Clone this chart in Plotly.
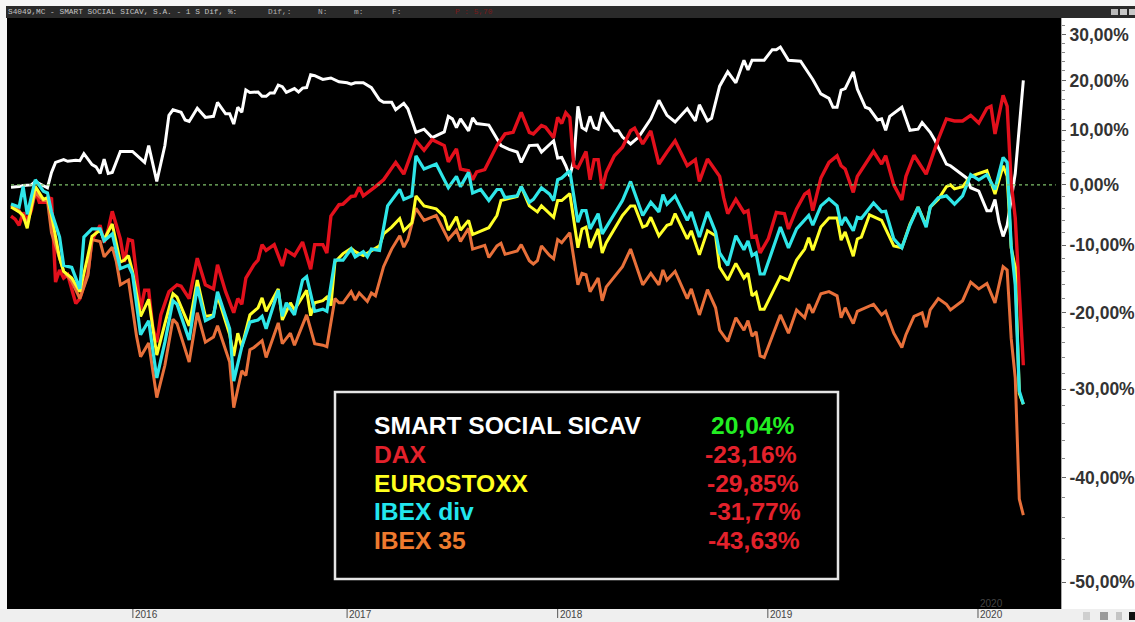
import math
import plotly.graph_objects as go

W, H = 1135, 622
PL, PR, PT, PB = 7, 1061, 18, 609

# weeks since start of the chart, percent change
white_wk = [0,2,3,5,6,8,9,10,11,13,14,16,17,18,20,21,22,23,24,25,27,30,33,34,35,36,38,39,40,42,43,44,46,48,50,51,53,54,55,56,57,58,59,61,62,63,64,65,66,67,68,70,71,72,73,74,75,77,79,81,83,84,85,87,89,91,92,94,95,97,98,100,102,104,107,108,109,110,111,113,114,115,118,121,123,125,126,128,130,131,134,135,136,137,138,139,140,141,142,143,144,145,146,147,149,150,151,153,155,157,158,160,162,164,167,169,170,172,173,175,177,179,181,182,183,186,188,189,190,192,195,198,200,202,203,204,205,206,208,209,211,212,214,215,216,217,218,220,222,224,225,227,228,231,232,234,236,237,239,241,242,243,244,245,246,248,250]
white_val = [-0.4,-0.3,-0.1,0,0.6,-0.1,-0.5,2.2,4.0,4.5,4.2,4.4,4.3,5.6,3.6,3.2,2.0,4.6,2.0,2.2,6.0,6.0,4.0,7.1,4.0,0.6,7.1,12.9,14,13.5,12,11.7,14.3,12.5,12.7,15.5,13.2,13.2,11.2,14.5,13.5,18,17.5,17.6,16.7,16.7,17.4,17.4,19,18.7,17.5,18.3,17.6,18.4,18.5,21.2,21,20.2,20.5,19.7,19.5,19.2,19.5,19.5,18.5,16,15.5,15.5,14,15.3,14.2,9.6,10.2,8.6,9.7,12.7,12.2,10.5,12.2,9.9,12.4,11.3,11,7.1,6.4,5.9,4,7.1,7.2,5.9,8,4.8,4.9,3.4,1.5,4.5,14.7,10.5,10,12.7,10.5,10.2,13.5,12,9.9,9.9,8.7,7.4,8.7,10.9,12.2,15.9,12.9,11.6,14.2,11.8,15,11.8,12.3,18.8,21.8,19.5,24.3,22.2,24.3,24.3,26.6,26.6,27.2,24.3,24.1,20.2,17.2,16.3,14.5,14.5,18,18.3,21.8,18.2,14.5,14.2,12,12.2,10,12.7,13.3,14.5,10,10.2,11.5,9.6,8.3,3.7,3.4,2.3,1.2,-0.5,-1.1,-4.4,-4.4,-2.5,-6.3,-8.6,-6.8,2,20]

red_wk = [0,1,2,3,4,5,6,7,8,9,10,11,12,13,14,16,17,19,20,22,23,24,25,27,28,29,30,32,33,34,35,36,37,39,41,42,44,46,48,50,51,53,55,56,57,58,60,61,62,63,65,67,68,70,72,74,75,77,78,79,81,82,84,85,86,87,90,92,93,95,97,100,102,104,107,108,110,111,113,114,115,117,120,122,124,126,128,129,131,132,134,135,136,137,138,139,140,142,143,144,145,146,147,149,151,153,154,156,158,160,162,164,167,169,170,172,175,176,177,179,181,182,183,184,185,187,189,191,192,194,196,197,198,200,202,204,205,206,208,209,213,215,216,218,220,221,223,226,229,231,233,235,237,239,241,242,243,245,246,247,248,250]
red_val = [-5.3,-5.8,-6.8,-4.7,-6,-4.4,-1,-3,-3,-3,-2.2,-15.6,-13.8,-15,-14.5,-18.7,-18,-14.2,-9.2,-6.8,-9.6,-7.5,-4.5,-9,-12.6,-9.1,-9.3,-19.6,-16.8,-16.8,-22,-24,-20.3,-17,-16,-16.2,-18,-12,-16,-16.6,-13,-17,-20,-18,-18.8,-15,-13,-12.3,-9.9,-10.8,-9.9,-13.2,-10.8,-11.6,-9.5,-13.7,-9.9,-9.9,-11.2,-5.3,-3.4,-3.3,-2,-1.9,-0.4,-1.9,-0.3,0.9,1.9,4,1.9,8,6.2,8.2,7.1,4.1,6.5,2.8,2.5,0.9,2.3,2.7,7.1,9.3,9.6,13.5,9.6,9.3,10.9,10.6,8.6,12.5,11.3,13.4,12.5,3.4,3,6,0.9,4.5,4.5,-0.7,2.2,5.2,6.8,9.9,10.4,7.4,9.9,3.7,5.9,8,3.4,4.5,0.6,4.6,1.5,-2.2,-4.9,-2.5,-4.7,-4.4,-8.7,-8.5,-11.2,-9,-4.7,-4.9,-7.4,-4.1,-1.6,-1.1,-4.4,1.2,4,5.2,3.4,2.8,-1.3,1.5,6,3.7,5.2,0,-2.6,1.5,5.3,1.9,8.3,12.2,11.8,11.8,12.9,11.4,14.3,14.7,9.3,16.9,14.7,0.3,-5.6,-27]

orange_wk = [0,2,4,6,8,9,10,12,13,15,17,19,20,22,23,25,26,27,29,31,32,34,36,38,40,41,44,46,48,50,51,54,55,57,58,59,60,62,63,66,67,69,70,73,75,77,78,80,81,82,84,85,86,88,89,90,92,94,96,97,98,100,102,105,108,110,111,113,114,117,118,120,121,122,125,126,128,129,130,131,133,134,135,136,138,140,141,142,143,145,146,147,151,153,156,158,160,161,162,164,167,168,170,172,174,175,177,179,181,182,183,184,185,186,190,192,194,196,197,198,200,202,204,205,206,208,209,213,215,216,218,220,221,223,225,226,227,229,231,232,235,237,239,241,243,245,246,247,248,249,250]
orange_val = [-3.5,-4.4,-6.5,-1.4,-2.7,-2.7,-8,-12,-14,-15.5,-18,-14.6,-9.1,-9.4,-11.8,-10.3,-12.5,-16,-15.3,-23.2,-25.9,-24.1,-31,-27,-20.9,-21.5,-26.6,-20,-24,-23.3,-21.8,-26.6,-32.2,-27.7,-28.3,-25,-24.7,-23.8,-26,-21.4,-24.2,-22.8,-24.4,-20.3,-24.2,-24.4,-24.6,-18,-18.6,-18.6,-17,-18.2,-17.2,-18.4,-17.2,-17.6,-13.3,-10.6,-8.5,-10.3,-9.1,-4,-6,-5.2,-9.1,-7.6,-9.4,-7.3,-10.6,-10,-11.9,-10.1,-9.7,-11.4,-10.9,-9.9,-12.4,-12.9,-12.4,-10.1,-11.6,-12.1,-9.1,-9.6,-8,-16,-14.3,-14.5,-17,-15,-18.3,-16.3,-13.3,-10.6,-16,-14.3,-16,-13.8,-15.3,-14,-18,-16.6,-20.3,-16.7,-19.3,-22.4,-23.9,-20.7,-22.4,-21.1,-23.2,-22.6,-25.8,-26,-20.3,-22.8,-19.6,-20.7,-18.8,-20,-17.3,-17,-17.6,-20.7,-19.3,-21.5,-19.8,-18.8,-20.3,-19.8,-22.8,-24.7,-23,-20.5,-20,-22,-19.6,-18,-18.8,-19.6,-18.3,-15.6,-16.6,-15.8,-18.6,-13.3,-13.8,-23.5,-28.6,-42.2,-43.8]

yellow_wk = [0,2,3,4,6,8,9,10,12,13,15,17,19,20,22,23,25,27,28,29,30,32,34,36,38,40,41,44,46,48,50,51,54,55,56,57,59,61,62,63,66,67,69,70,73,74,75,77,78,79,80,82,84,85,87,89,91,92,94,96,97,99,100,102,105,107,108,110,111,113,114,118,120,121,125,126,128,130,131,134,135,136,138,140,141,142,143,145,146,147,151,153,154,156,157,158,160,162,163,164,167,168,170,172,174,175,177,179,181,182,183,184,185,186,190,192,194,196,197,198,200,202,204,205,206,208,209,210,212,215,218,220,222,224,226,227,229,231,232,233,235,237,241,243,245,246,247,248,249,250]
yellow_val = [-3.8,-4.6,-5.2,-7.3,-0.3,-2.5,-2.2,-5.2,-12,-14,-15,-17,-11.6,-8.6,-7.6,-9.1,-6.6,-12.6,-12.3,-11.6,-14,-20.5,-18.1,-25.7,-21.5,-17.3,-17.8,-21.8,-15.3,-20.5,-20.3,-17.6,-23,-25.8,-22.8,-24.6,-20.3,-19.3,-17.9,-19.8,-16.6,-21,-18.6,-19.6,-16.8,-20.4,-18.6,-18.3,-17.8,-19,-12.6,-11.3,-10.5,-11,-11.6,-10.8,-10.1,-8.2,-7.1,-5.7,-7.7,-6.4,-1.9,-3.6,-4.1,-5.4,-7.6,-5.4,-7.6,-6,-8.3,-7.2,-5.2,-2.7,-2,-0.3,-3.6,-4.6,-3.6,-5.5,-2.7,-2.7,-1.5,-10.4,-7.4,-7.1,-10.4,-7.4,-11.2,-9.6,-5.2,-3.6,-3.6,-7.1,-6.8,-5.5,-8.5,-6.8,-6.6,-4.9,-9,-7.7,-11.5,-7.7,-8.5,-13.4,-15.3,-12.8,-15,-14.3,-17.6,-17.1,-19.5,-19.5,-14.8,-15.3,-12.3,-10.6,-8.8,-10.8,-7.1,-5.6,-5.6,-9.2,-7.9,-11.7,-9,-8.7,-5.1,-6,-10.1,-10.4,-6.6,-3.8,-6.8,-3.8,-2.5,-0.3,0,-0.7,-0.3,1.5,2.5,-1.6,3.4,1.5,-10.4,-13.4,-30.5,-31.8]

cyan_wk = [0,2,3,4,6,8,9,10,12,13,15,17,18,20,22,23,25,27,29,30,32,34,36,38,40,41,44,46,48,50,51,54,55,57,59,61,62,63,66,67,68,70,72,73,75,77,78,80,82,84,85,87,88,89,91,93,96,97,99,100,102,105,108,110,111,113,114,116,118,120,121,122,125,126,128,129,131,133,134,135,136,138,140,141,142,143,145,146,151,153,156,158,160,161,162,164,167,168,170,172,174,175,177,179,181,182,183,184,185,186,190,192,194,196,197,198,200,202,204,205,206,208,209,210,213,215,216,218,220,222,224,226,227,229,231,233,235,237,239,241,243,245,246,247,248,249,250]
cyan_val = [-3.3,-3.8,-0.3,-5,0.9,-1.1,-1.4,-4.6,-8.7,-13.1,-13.4,-16.6,-8.7,-7.4,-7.4,-9.3,-8.2,-13.6,-13.1,-14.4,-23,-21.1,-28.6,-24,-18.3,-18.8,-23.7,-16.3,-21.1,-20.5,-17,-22.2,-29,-24.6,-21.3,-21,-20.5,-22.2,-16.8,-20.5,-18.6,-20.3,-15.3,-14.8,-19.8,-19.5,-19.8,-12.3,-12.3,-10.6,-11.8,-11,-11.8,-10.6,-10.8,-3.6,-0.8,-2.5,-1.9,5.2,2.8,3.7,-0.5,1.5,-0.3,2.2,-1.4,-0.8,-2.7,-0.8,-0.8,-2.2,-1.9,-0.3,-3,-2.5,-0.5,-1.6,-2.7,0.9,1.2,2.5,-6.3,-4.4,-4.4,-7.4,-4.9,-8.2,-2.7,0.6,-5.2,-3,-4.6,-1.7,-3.3,-1.9,-6,-4.6,-8.7,-4.6,-7.9,-11.2,-13.1,-8.5,-10.7,-9.3,-11.6,-11.2,-14.4,-14.4,-7.1,-10.4,-7.4,-6,-5.2,-6.8,-3.6,-2.4,-3.6,-6.8,-5.5,-7.7,-5.5,-5.7,-3.1,-4.6,-4.5,-9,-10.4,-6.8,-3.8,-7.1,-3.8,-2.2,-1.9,-3.3,-1.9,1.8,0.9,1.8,-0.8,4.9,4,-10.1,-16,-30.2,-31.8]

year_ticks = [30.1, 83, 135, 186.9, 238.8]
year_labels = ["2016", "2017", "2018", "2019", "2020"]
pct_ticks = [-50, -40, -30, -20, -10, 0, 10, 20, 30]
pct_labels = ["-50,00%", "-40,00%", "-30,00%", "-20,00%", "-10,00%", "0,00%", "10,00%", "20,00%", "30,00%"]
pct_minor = [-48,-46,-44,-42,-38,-36,-34,-32,-28,-26,-24,-22,-18,-16,-14,-12,-8,-6,-4,-2,2,4,6,8,12,14,16,18,22,24,26,28,32]

names = ["SMART SOCIAL SICAV", "DAX", "EUROSTOXX", "IBEX div", "IBEX 35"]
results = ["20,04%", "-23,16%", "-29,85%", "-31,77%", "-43,63%"]
name_colors = ["#ffffff", "#e3212b", "#ffff1e", "#22e6ee", "#ee7a2e"]
result_colors = ["#22ee22", "#e3212b", "#e3212b", "#e3212b", "#e3212b"]


def level(v):
    return [100 + p for p in v]


def fx(px):
    return (px - PL) / (PR - PL)


def fy(py):
    return (PB - py) / (PB - PT)


fig = go.Figure()
for name, wk, val, col, lw in [
    (names[0], white_wk, white_val, "#ffffff", 3.0),
    (names[1], red_wk, red_val, "#e3101c", 3.4),
    (names[4], orange_wk, orange_val, "#e8703a", 3.0),
    (names[2], yellow_wk, yellow_val, "#ffff28", 3.0),
    (names[3], cyan_wk, cyan_val, "#2fe6e8", 3.2),
]:
    fig.add_trace(go.Scatter(x=wk, y=level(val), mode="lines", name=name,
                             line=dict(color=col, width=lw), showlegend=False,
                             hoverinfo="skip"))

shapes = [
    dict(type="rect", xref="paper", yref="paper", x0=fx(PR), x1=fx(W), y0=fy(PB), y1=fy(PT),
         fillcolor="#ffffff", line_width=0, layer="below"),
    dict(type="rect", xref="paper", yref="paper", x0=fx(0), x1=fx(W), y0=fy(H), y1=fy(PB),
         fillcolor="#efefef", line_width=0, layer="below"),
    dict(type="rect", xref="paper", yref="paper", x0=fx(6), x1=fx(W), y0=fy(PT), y1=fy(6),
         fillcolor="#2a2a2a", line_width=0, layer="below"),
    dict(type="line", xref="x", yref="y", x0=0, x1=258, y0=100, y1=100,
         line=dict(color="#7fc06a", width=1.2, dash="dot"), layer="above"),
    dict(type="rect", xref="paper", yref="paper", x0=fx(335), x1=fx(838), y0=fy(579), y1=fy(392),
         fillcolor="#000000", line=dict(color="#e4e4e4", width=2.5), layer="above"),
]
for tv in year_ticks:
    shapes.append(dict(type="line", xref="x", yref="paper", x0=tv, x1=tv, y0=fy(618), y1=fy(PB),
                       line=dict(color="#555555", width=1), layer="above"))
for x0, x1, c in [(1111, 1118, "#b8b8b8"), (1120, 1127, "#c8c8c8"), (1129, 1135, "#c8c8c8")]:
    shapes.append(dict(type="rect", xref="paper", yref="paper", x0=fx(x0), x1=fx(x1), y0=fy(15), y1=fy(9),
                       fillcolor=c, line_width=0, layer="above"))
for x0, x1, c in [(1083, 1090, "#cfcfcf"), (1100, 1108, "#9a9a9a"), (1116, 1122, "#c4c4c4"), (1129, 1135, "#111111")]:
    shapes.append(dict(type="rect", xref="paper", yref="paper", x0=fx(x0), x1=fx(x1), y0=fy(620), y1=fy(612),
                       fillcolor=c, line_width=0, layer="above"))

ann = []
for i, (n, r) in enumerate(zip(names, results)):
    yc = [425, 454, 483, 511, 540][i]
    xr = [797, 799, 801, 803, 802][i]
    ann.append(dict(x=fx(372), y=fy(yc), xref="paper", yref="paper", xanchor="left", yanchor="middle",
                    text=n, showarrow=False, align="left",
                    font=dict(family="Liberation Sans", size=24.6, color=name_colors[i], weight="bold")))
    ann.append(dict(x=fx(xr), y=fy(yc), xref="paper", yref="paper", xanchor="right", yanchor="middle",
                    text=r, showarrow=False, align="right",
                    font=dict(family="Liberation Sans", size=24.6, color=result_colors[i], weight="bold")))
for px, txt, col in [(6, "S4049,MC - SMART SOCIAL SICAV, S.A. - 1 S Dif, %:", "#c4c4c4"),
                     (266, "Dif,:", "#b0b0b0"), (316, "N:", "#b0b0b0"), (352, "m:", "#b0b0b0"),
                     (390, "F:", "#b0b0b0"), (453, "P : 5,70", "#7a1a1a")]:
    ann.append(dict(x=fx(px), y=fy(12), xref="paper", yref="paper", xanchor="left", yanchor="middle",
                    text=txt, showarrow=False,
                    font=dict(family="Liberation Mono", size=7.8, color=col)))
ann.append(dict(x=fx(978), y=fy(603), xref="paper", yref="paper", xanchor="left", yanchor="middle",
                text="2020", showarrow=False, font=dict(family="Liberation Sans", size=10, color="#444444")))
for tv, lab in zip(year_ticks, year_labels):
    ann.append(dict(x=tv, y=fy(614.5), xref="x", yref="paper", xanchor="left", yanchor="middle",
                    text=lab, showarrow=False,
                    font=dict(family="Liberation Sans", size=10, color="#444444")))

fig.update_layout(
    width=W, height=H, autosize=False,
    margin=dict(l=PL, r=W - PR, t=PT, b=H - PB, pad=0),
    paper_bgcolor="#f6f6f6", plot_bgcolor="#000000",
    shapes=shapes, annotations=ann, showlegend=False,
    xaxis=dict(range=[-0.99, 259.3], showticklabels=False, ticks="",
               showgrid=False, zeroline=False, fixedrange=True, automargin=False),
    yaxis=dict(type="log", side="right", range=[math.log10(47.71), math.log10(133.8)],
               tickmode="array", tickvals=[100 + t for t in pct_ticks], ticktext=pct_labels,
               showgrid=False, zeroline=False, ticks="outside", ticklen=4, tickwidth=1, tickcolor="#666666",
               showline=True, linecolor="#aaaaaa", linewidth=1, fixedrange=True, automargin=False,
               tickfont=dict(family="Liberation Sans", size=17.5, color="#333333", weight="bold"),
               minor=dict(tickmode="array", tickvals=[100 + t for t in pct_minor], ticks="outside",
                          ticklen=3, tickwidth=1, tickcolor="#888888", showgrid=False)),
)
fig.write_html("out.html", post_script="document.body.style.margin='0';document.body.style.background='#f6f6f6';",
               config={"displayModeBar": False})
